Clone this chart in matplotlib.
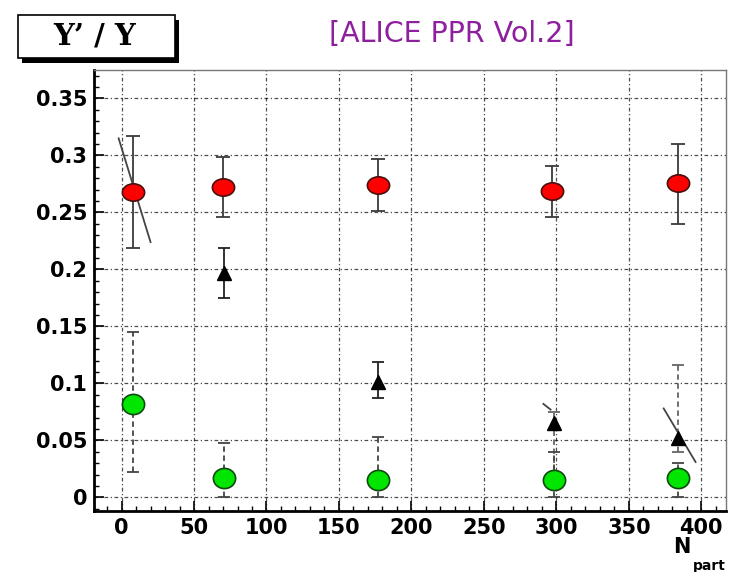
import matplotlib.pyplot as plt
from matplotlib.path import Path
from matplotlib.transforms import Affine2D
from matplotlib.patches import Rectangle

# Upsilon(2S)/Upsilon(1S) ratio vs number of participants
npart_red = [8, 70, 177, 297, 384]
ratio_red = [0.268, 0.272, 0.274, 0.269, 0.276]
red_lo = [0.219, 0.246, 0.251, 0.246, 0.240]
red_hi = [0.3175, 0.299, 0.2965, 0.291, 0.310]

npart_tri = [71, 177, 298, 384]
ratio_tri = [0.197, 0.101, 0.065, 0.052]
tri_lo = [0.175, 0.087, 0.022, 0.040]
tri_hi = [0.219, 0.119, 0.075, 0.116]

npart_green = [8, 71, 177, 298, 384]
ratio_green = [0.0816, 0.017, 0.015, 0.015, 0.017]
green_lo = [0.022, 0.0, 0.0, 0.0, 0.0]
green_hi = [0.145, 0.048, 0.053, 0.040, 0.030]

# slanted systematic segments (x0, y0, x1, y1)
slant_x0 = [-2, 291, 374]
slant_y0 = [0.315, 0.082, 0.078]
slant_x1 = [20, 296, 396]
slant_y1 = [0.224, 0.077, 0.031]

xticks = [0, 50, 100, 150, 200, 250, 300, 350, 400]
yticks = [0, 0.05, 0.1, 0.15, 0.2, 0.25, 0.3, 0.35]
ytick_labels = ['0', '0.05', '0.1', '0.15', '0.2', '0.25', '0.3', '0.35']

W, H = 729, 572
fig = plt.figure(figsize=(W / 100, H / 100), dpi=100)
ax = fig.add_axes([94 / W, 1 - 511 / H, (726 - 94) / W, (511 - 70) / H])

ax.set_xlim(-19, 417)
ax.set_ylim(-0.012, 0.375)

ax.grid(which='major', color='black', linestyle=(0, (3, 2, 1, 2)), lw=0.9, alpha=0.7)
ax.set_axisbelow(True)

def err(lo, val, hi):
    return [[v - l for v, l in zip(val, lo)], [h - v for v, h in zip(val, hi)]]

# error bars
ax.errorbar(npart_red, ratio_red, yerr=err(red_lo, ratio_red, red_hi),
            fmt='none', ecolor='#3a3a3a', elinewidth=1.3, capsize=5, capthick=1.3)
# first two triangles: solid bars, last two: dashed
ax.errorbar(npart_tri[:2], ratio_tri[:2], yerr=err(tri_lo[:2], ratio_tri[:2], tri_hi[:2]),
            fmt='none', ecolor='#222222', elinewidth=1.3, capsize=4, capthick=1.3)
_, _, bars = ax.errorbar(npart_tri[2:], ratio_tri[2:],
                         yerr=err(tri_lo[2:], ratio_tri[2:], tri_hi[2:]),
                         fmt='none', ecolor='#666666', elinewidth=1.3, capsize=4, capthick=1.3)
bars[0].set_linestyle((0, (3, 2)))
_, _, bars = ax.errorbar(npart_green, ratio_green, yerr=err(green_lo, ratio_green, green_hi),
                         fmt='none', ecolor='#444444', elinewidth=1.3, capsize=4, capthick=1.3)
bars[0].set_linestyle((0, (3, 2)))

for x0, y0, x1, y1 in zip(slant_x0, slant_y0, slant_x1, slant_y1):
    ax.plot([x0, x1], [y0, y1], color='#444444', lw=1.3)

# markers
red_mark = Path.unit_circle().transformed(Affine2D().scale(1.28, 1.0))
green_mark = Path.unit_circle().transformed(Affine2D().scale(1.1, 1.0))
ax.plot(npart_red, ratio_red, ls='none', marker=red_mark, ms=16,
        mfc='#ff0000', mec='#4a1010', mew=1.2, zorder=5)
ax.plot(npart_green, ratio_green, ls='none', marker=green_mark, ms=16,
        mfc='#00e600', mec='#104a10', mew=1.2, zorder=5)
ax.plot(npart_tri, ratio_tri, ls='none', marker='^', ms=10,
        mfc='black', mec='black', zorder=5)

ax.set_xticks(xticks)
ax.set_xticks(range(-10, 420, 10), minor=True)
ax.set_yticks(yticks)
ax.set_yticklabels(ytick_labels)
ax.set_yticks([i / 100 for i in range(-1, 38)], minor=True)
ax.tick_params(which='major', direction='in', length=7, width=1.2, labelsize=15, pad=5)
ax.tick_params(which='minor', direction='in', length=3.5, width=1.0)
for lab in ax.get_xticklabels() + ax.get_yticklabels():
    lab.set_fontweight('bold')

for s in ['left', 'bottom']:
    ax.spines[s].set_linewidth(2)
for s in ['top', 'right']:
    ax.spines[s].set_linewidth(1)
    ax.spines[s].set_color('#777777')

# axis title at the bottom right
fig.text(673 / W, 1 - 553 / H, 'N', fontsize=15, fontweight='bold', ha='left', va='baseline')
fig.text(693 / W, 1 - 559 / H, 'part', fontsize=10, fontweight='bold', ha='left', va='top')

# label box with shadow
fig.patches.append(Rectangle((22 / W, 1 - 63 / H), 157 / W, 43 / H,
                             transform=fig.transFigure, facecolor='black', edgecolor='none'))
fig.patches.append(Rectangle((18 / W, 1 - 58 / H), 157 / W, 43 / H,
                             transform=fig.transFigure, facecolor='white',
                             edgecolor='black', lw=1.2))
fig.text(95 / W, 1 - 36 / H, 'Υ’ / Υ', fontsize=21, family='DejaVu Serif',
         fontweight='bold', ha='center', va='center')

fig.text(452 / W, 1 - 34 / H, '[ALICE PPR Vol.2]', fontsize=20.5, color='#8e1f9e',
         ha='center', va='center')

fig.savefig('out.png', dpi=100)
